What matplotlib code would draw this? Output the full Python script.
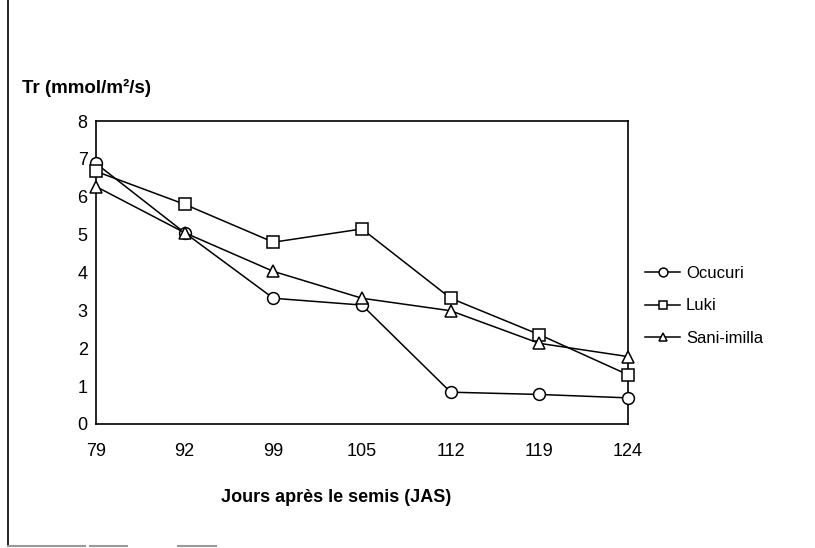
import matplotlib
matplotlib.use("Agg")
import matplotlib.pyplot as plt
from matplotlib.lines import Line2D

plt.rcParams['font.family'] = ['Liberation Sans', 'DejaVu Sans']

days = ["79", "92", "99", "105", "112", "119", "124"]
ocucuri = [6.88, 5.05, 3.32, 3.14, 0.84, 0.78, 0.69]
luki = [6.67, 5.8, 4.8, 5.15, 3.32, 2.36, 1.3]
sani = [6.27, 5.05, 4.03, 3.32, 2.99, 2.13, 1.78]
series_names = ["Ocucuri", "Luki", "Sani-imilla"]
y_ticks = [0, 1, 2, 3, 4, 5, 6, 7, 8]

W, H = 815, 548
fig = plt.figure(figsize=(W / 100, H / 100), dpi=100)
ax_left, ax_right, ax_top, ax_bottom = 96, 628, 121, 424
ax = fig.add_axes([ax_left / W, 1 - ax_bottom / H, (ax_right - ax_left) / W,
                   (ax_bottom - ax_top) / H])

x = list(range(len(days)))
styles = [("o", 8.5), ("s", 8.5), ("^", 8)]
handles = []
for vals, name, (m, ms) in zip([ocucuri, luki, sani], series_names, styles):
    h, = ax.plot(x, vals, color="black", lw=1.1, marker=m, markersize=ms,
                 markerfacecolor="white", markeredgecolor="black",
                 markeredgewidth=1.1, label=name, clip_on=False, zorder=3)
    handles.append(h)

ax.set_xlim(0, len(days) - 1)
ax.set_ylim(0, 8)
ax.set_xticks(x)
ax.set_xticklabels(days)
ax.set_yticks(y_ticks)
ax.tick_params(axis="both", length=0, labelsize=13)
ax.tick_params(axis="y", pad=6)
ax.tick_params(axis="x", pad=14)
for s in ax.spines.values():
    s.set_linewidth(1.2)
    s.set_color("black")

ax.set_xlabel("Jours après le semis (JAS)", fontsize=13, fontweight="bold")
ax.xaxis.set_label_coords((336 - ax_left) / (ax_right - ax_left),
                          -(497 - ax_bottom) / (ax_bottom - ax_top), transform=ax.transAxes)
ax.xaxis.label.set_va("center")
fig.text(22 / W, 1 - 88 / H, "Tr (mmol/m²/s)", fontsize=13.5, fontweight="bold",
         ha="left", va="center")

leg = fig.legend(handles=handles, loc="upper left",
                 bbox_to_anchor=(645 / W, 1 - 266 / H), frameon=False,
                 borderpad=0, borderaxespad=0,
                 fontsize=12, handlelength=2.1, handletextpad=0.35,
                 labelspacing=1.05, markerscale=0.75)

# outer frame remnants
fig.add_artist(Line2D([8 / W, 8 / W], [1 - 545 / H, 1.0], transform=fig.transFigure,
                      color="black", lw=1.2))
for x0, x1 in [(8, 85), (90, 127), (178, 216)]:
    fig.add_artist(Line2D([x0 / W, x1 / W], [1 - 546 / H, 1 - 546 / H],
                          transform=fig.transFigure, color="#999999", lw=1.5))

fig.savefig("out.png", dpi=100)
